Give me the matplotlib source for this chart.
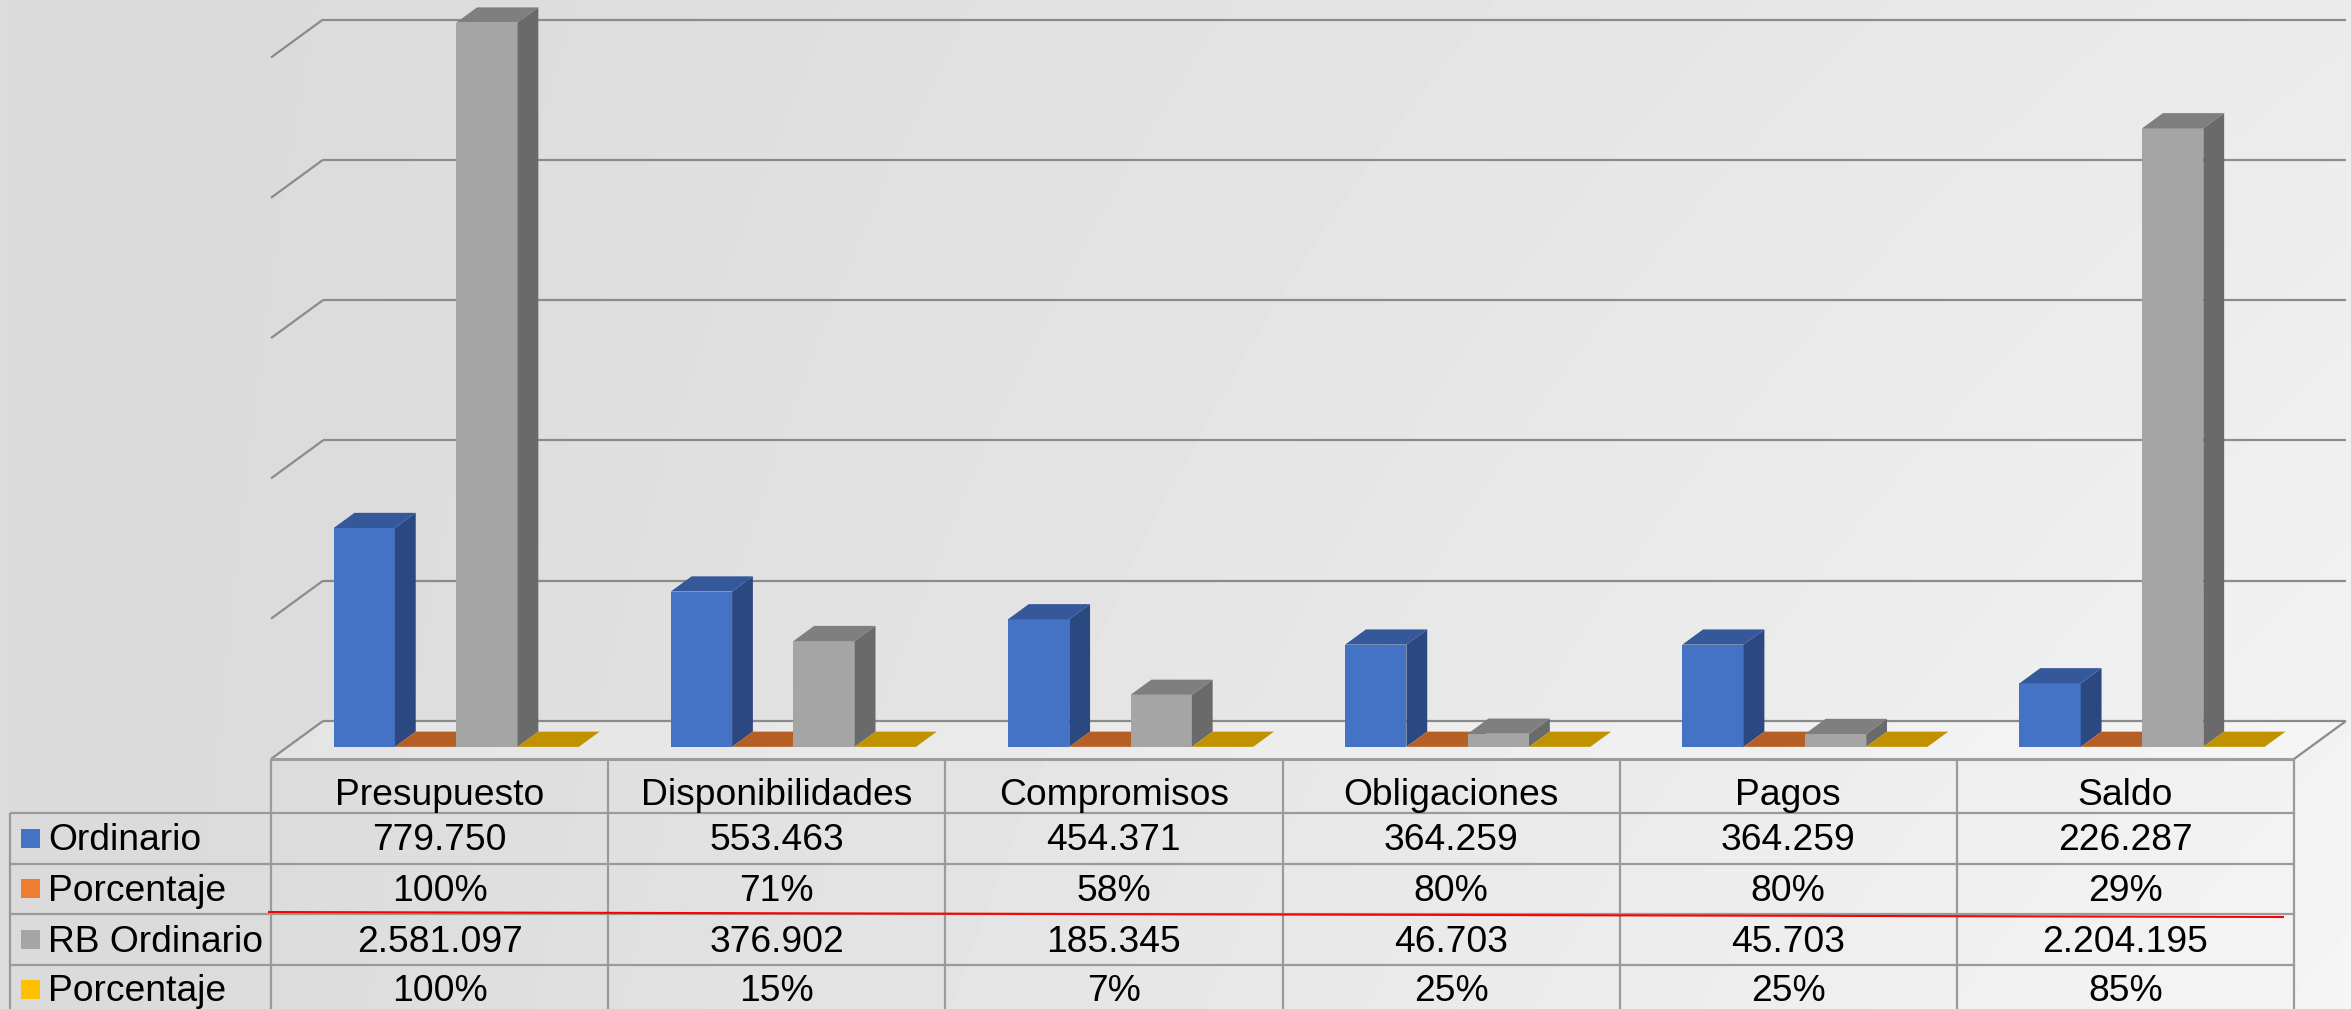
import numpy as np
import matplotlib
matplotlib.use('Agg')
import matplotlib.pyplot as plt
from matplotlib.patches import Polygon
from matplotlib.lines import Line2D
from matplotlib.transforms import IdentityTransform

# ---------------- data ----------------
categories = ['Presupuesto', 'Disponibilidades', 'Compromisos', 'Obligaciones', 'Pagos', 'Saldo']
series_names = ['Ordinario', 'Porcentaje', 'RB Ordinario', 'Porcentaje']
ordinario = [779750, 553463, 454371, 364259, 364259, 226287]
porcentaje_ord = [1.00, 0.71, 0.58, 0.80, 0.80, 0.29]
rb_ordinario = [2581097, 376902, 185345, 46703, 45703, 2204195]
porcentaje_rb = [1.00, 0.15, 0.07, 0.25, 0.25, 0.85]

front_colors = ['#4472C4', '#ED7D31', '#A5A5A5', '#FFC000']
top_colors = ['#34589A', '#B55F25', '#7F7F7F', '#C09200']
side_colors = ['#2B4881', '#9C5020', '#6A6A6A', '#A67E00']

W, H = 2351, 1009
DPI = 100
fig = plt.figure(figsize=(W / DPI, H / DPI), dpi=DPI)

# ---------------- background gradient ----------------
bg = fig.add_axes([0, 0, 1, 1], zorder=-10)
xx = np.linspace(0, 1, 400)
yy = np.linspace(0, 1, 200)
X, Y = np.meshgrid(xx, yy)
val = 0.85 + 0.07 * X + 0.04 * X * Y + 0.01 * np.exp(-X * W / 60)
bg.imshow(val, extent=[0, 1, 0, 1], aspect='auto', cmap='gray', vmin=0, vmax=1,
          origin='upper', interpolation='bilinear')
bg.axis('off')

# ---------------- chart axes (front plane) ----------------
L, R = 271, 2294
BASE_TOP = 759          # pixel row (from top) of value 0 on front plane
YMAX = 2.5e6
PX_PER_UNIT = 2.806e-4
HP = YMAX * PX_PER_UNIT
ax = fig.add_axes([L / W, (H - BASE_TOP) / H, (R - L) / W, HP / H])
ax.set_xlim(0, len(categories))
ax.set_ylim(0, YMAX)
ax.axis('off')

FD = np.array([52.0, 38.0])   # floor depth offset in pixels
Z0, Z1 = 0.32, 0.72           # bar front / back depth
ID = IdentityTransform()


def disp(x, y, z):
    p = ax.transData.transform((x, y))
    return p + z * FD


def poly(pts, color, lw=0, ec='none', z=2):
    p = Polygon(np.array(pts), closed=True, facecolor=color, edgecolor=ec,
                linewidth=lw, transform=ID, clip_on=False, zorder=z)
    fig.add_artist(p)


def line(p1, p2, color, lw, z=1.5):
    l = Line2D([p1[0], p2[0]], [p1[1], p2[1]], color=color, linewidth=lw,
               transform=ID, clip_on=False, zorder=z, solid_capstyle='butt')
    fig.add_artist(l)


n = len(categories)
# floor
poly([disp(0, 0, 0), disp(n, 0, 0), disp(n, 0, 1), disp(0, 0, 1)], (1, 1, 1, 0.25), z=1)
grid_c = '#8b8b8b'
for v in np.arange(0, YMAX + 1, 5e5):
    line(disp(0, v, 1), disp(n, v, 1), grid_c, 1.6)
    line(disp(0, v, 0), disp(0, v, 1), grid_c, 1.6)
line(disp(n, 0, 0), disp(n, 0, 1), grid_c, 1.6)

# bars
series_vals = [ordinario, porcentaje_ord, rb_ordinario, porcentaje_rb]
w = 1 / 5.5
gap = 0.75 * w
zc = 3
for i in range(n):
    for j, vals in enumerate(series_vals):
        v = vals[i]
        x0 = i + gap + j * w
        x1 = x0 + w
        poly([disp(x0, 0, Z0), disp(x1, 0, Z0), disp(x1, v, Z0), disp(x0, v, Z0)], front_colors[j], z=zc)
        poly([disp(x1, 0, Z0), disp(x1, 0, Z1), disp(x1, v, Z1), disp(x1, v, Z0)], side_colors[j], z=zc)
        poly([disp(x0, v, Z0), disp(x1, v, Z0), disp(x1, v, Z1), disp(x0, v, Z1)], top_colors[j], z=zc)
        zc += 0.01

# ---------------- data table ----------------
tab_c = '#9a9a9a'
rows_top = [759, 813, 863.5, 914, 964.5, 1015]


def py(t):
    return H - t


line((disp(0, 0, 0)[0], py(759)), (disp(n, 0, 0)[0], py(759)), '#9c9c9c', 2.2, z=5)
for t in rows_top[1:]:
    line((10, py(t)), (disp(n, 0, 0)[0], py(t)), tab_c, 1.6, z=5)
for k in range(n + 1):
    xk = disp(k, 0, 0)[0]
    line((xk, py(759)), (xk, py(1015)), tab_c, 1.6, z=5)
line((10, py(813)), (10, py(1015)), tab_c, 1.6, z=5)

FS = 26.8
FONT = 'Liberation Sans'


def fmt_num(v):
    return f"{v:,}".replace(',', '.')


def fmt_pct(p):
    return f"{round(p * 100)}%"


table_rows = [[fmt_num(v) for v in ordinario],
              [fmt_pct(p) for p in porcentaje_ord],
              [fmt_num(v) for v in rb_ordinario],
              [fmt_pct(p) for p in porcentaje_rb]]
header_base = 805
row_bases = [850, 901, 951.5, 1001]

for i, c in enumerate(categories):
    xc = disp(i + 0.5, 0, 0)[0]
    fig.text(xc / W, py(header_base) / H, c, ha='center', va='baseline',
             fontsize=FS, family=FONT, color='black', zorder=6)
    for r in range(4):
        fig.text(xc / W, py(row_bases[r]) / H, table_rows[r][i], ha='center', va='baseline',
                 fontsize=FS, family=FONT, color='black', zorder=6)

for r in range(4):
    yc = (rows_top[r + 1] + rows_top[r + 2]) / 2
    poly([(21, py(yc - 9.5)), (40, py(yc - 9.5)), (40, py(yc + 9.5)), (21, py(yc + 9.5))],
         front_colors[r], z=6)
    fig.text(48 / W, py(row_bases[r]) / H, series_names[r], ha='left', va='baseline',
             fontsize=FS, family=FONT, color='black', zorder=6)

# red annotation line
line((268, py(912)), (2284, py(917)), '#ff0000', 1.5, z=7)

fig.savefig('out.png', dpi=DPI)
